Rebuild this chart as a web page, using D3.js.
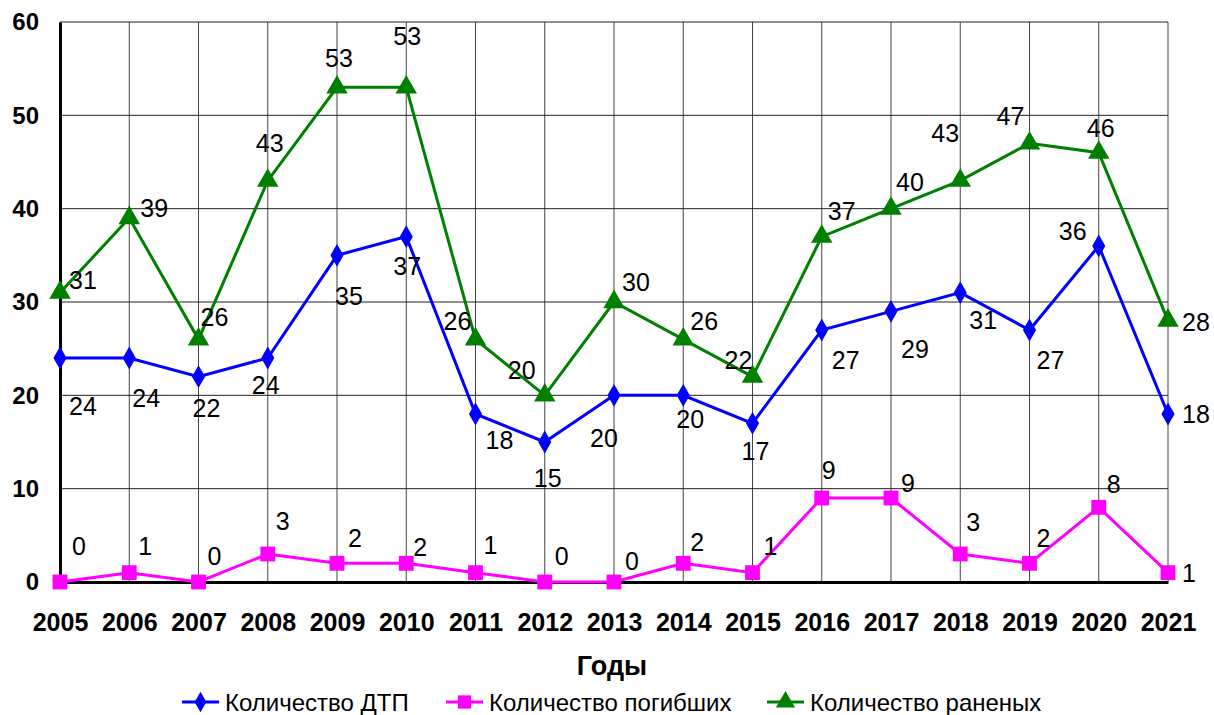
<!DOCTYPE html>
<meta charset="utf-8">
<style>
body { margin: 0; background: #fff; }
svg { font-family: Arial, "Liberation Sans", sans-serif; }
.tick text { font-weight: 700; fill: #000; }
.x-axis .tick text { font-size: 25px; }
.y-axis .tick text { font-size: 24px; }
.lbl { font-size: 25px; fill: #000; }
.legend text { font-size: 24px; fill: #000; }
</style>
<body>
<script src="https://d3js.org/d3.v7.min.js"></script>
<script>

var years = [2005, 2006, 2007, 2008, 2009, 2010, 2011, 2012, 2013, 2014, 2015, 2016, 2017, 2018, 2019, 2020, 2021];
var dtp     = [24, 24, 22, 24, 35, 37, 18, 15, 20, 20, 17, 27, 29, 31, 27, 36, 18];
var killed  = [0, 1, 0, 3, 2, 2, 1, 0, 0, 2, 1, 9, 9, 3, 2, 8, 1];
var injured = [31, 39, 26, 43, 53, 53, 26, 20, 30, 26, 22, 37, 40, 43, 47, 46, 28];
var yTicks = [0, 10, 20, 30, 40, 50, 60];

// label placement relative to each point (dx, dy), as in the original
var dtpOff = [[23,48],[17,40],[8,31],[-2,27],[12,41],[1,29],[24,26],[3,36],[-10,43],[7,24],[3,28],[24,30],[24,38],[23,27],[21,30],[-26,-15],[28,0]];
var killedOff = [[19,-36],[16,-27],[16,-26],[15,-33],[18,-25],[14,-16],[15,-28],[17,-26],[18,-21],[14,-21],[18,-27],[7,-28],[17,-15],[13,-32],[14,-25],[15,-23],[21,0]];
var injuredOff = [[23,-13],[25,-10],[16,-22],[2,-38],[2,-29],[1,-51],[-18,-18],[-23,-25],[22,-20],[21,-18],[-14,-17],[20,-26],[19,-27],[-15,-48],[-19,-27],[2,-25],[28,1]];

var width = 1214, height = 715;
var margin = {left: 60, right: 46, top: 22, bottom: 133};

var svg = d3.select("body").append("svg")
    .attr("width", width)
    .attr("height", height);

var x = d3.scaleLinear()
    .domain([2005, 2021])
    .range([margin.left, width - margin.right]);

var y = d3.scaleLinear()
    .domain([0, 60])
    .range([height - margin.bottom, margin.top]);

// grid
svg.append("g").selectAll("line.v")
  .data(years).enter().append("line")
    .attr("x1", d => x(d)).attr("x2", d => x(d))
    .attr("y1", y(60)).attr("y2", y(0))
    .attr("stroke", "#444").attr("stroke-width", 1);

svg.append("g").selectAll("line.h")
  .data(yTicks).enter().append("line")
    .attr("x1", x(2005)).attr("x2", x(2021))
    .attr("y1", d => y(d)).attr("y2", d => y(d))
    .attr("stroke", "#222").attr("stroke-width", 1);

// axes
var yAxis = svg.append("g")
    .attr("class", "y-axis")
    .attr("transform", "translate(" + x(2005) + ",0)")
    .call(d3.axisLeft(y).tickValues(yTicks).tickSize(0).tickPadding(21));
yAxis.select(".domain").attr("stroke", "#000").attr("stroke-width", 3);

var xAxis = svg.append("g")
    .attr("class", "x-axis")
    .attr("transform", "translate(0," + y(0) + ")")
    .call(d3.axisBottom(x).tickValues(years).tickFormat(d3.format("d")).tickSize(0).tickPadding(31));
xAxis.select(".domain").attr("stroke", "#000").attr("stroke-width", 3);

svg.append("text")
    .attr("x", 612)
    .attr("y", 675)
    .attr("text-anchor", "middle")
    .style("font-weight", 700)
    .style("font-size", "27px")
    .text("Годы");

var line = d3.line()
    .x((d, i) => x(years[i]))
    .y(d => y(d));

var series = [
  {name: "Количество ДТП", values: dtp, color: "#0000ff", shape: d3.symbolDiamond, size: 150, off: dtpOff},
  {name: "Количество погибших", values: killed, color: "#ff00ff", shape: d3.symbolSquare, size: 220, off: killedOff},
  {name: "Количество раненых", values: injured, color: "#008000", shape: d3.symbolTriangle, size: 200, off: injuredOff}
];

series.forEach(function(s) {
  svg.append("path")
      .datum(s.values)
      .attr("fill", "none")
      .attr("stroke", s.color)
      .attr("stroke-width", 3)
      .attr("d", line);

  svg.append("g").selectAll("path")
    .data(s.values).enter().append("path")
      .attr("transform", (d, i) => "translate(" + x(years[i]) + "," + y(d) + ")")
      .attr("d", d3.symbol().type(s.shape).size(s.size))
      .attr("fill", s.color);

  svg.append("g").selectAll("text")
    .data(s.values).enter().append("text")
      .attr("class", "lbl")
      .attr("x", (d, i) => x(years[i]) + s.off[i][0])
      .attr("y", (d, i) => y(d) + s.off[i][1])
      .attr("text-anchor", "middle")
      .attr("dy", "0.36em")
      .text(d => d);
});

// legend
var legendX = [182, 446, 767];
var legend = svg.append("g").attr("class", "legend");
series.forEach(function(s, i) {
  var g = legend.append("g").attr("transform", "translate(" + legendX[i] + ",702)");
  g.append("line").attr("x1", 0).attr("x2", 37).attr("stroke", s.color).attr("stroke-width", 3);
  g.append("path")
      .attr("transform", "translate(18.5,0)")
      .attr("d", d3.symbol().type(s.shape).size(s.size * 0.8))
      .attr("fill", s.color);
  g.append("text").attr("x", 43).attr("dy", "0.36em").text(s.name);
});

</script>
